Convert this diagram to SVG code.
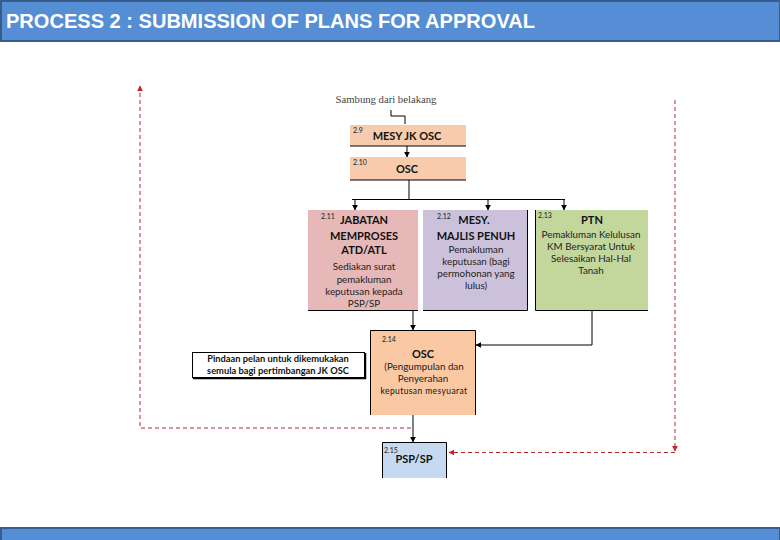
<svg xmlns="http://www.w3.org/2000/svg" width="780" height="540" viewBox="0 0 780 540">
  <defs>
    <marker id="ah" viewBox="0 0 10 10" refX="9" refY="5" markerWidth="6" markerHeight="6" orient="auto" markerUnits="userSpaceOnUse">
      <path d="M0,0 L10,5 L0,10 z" fill="#000"/>
    </marker>
    <marker id="ahr" viewBox="0 0 10 10" refX="9" refY="5" markerWidth="6" markerHeight="6" orient="auto" markerUnits="userSpaceOnUse">
      <path d="M0,0 L10,5 L0,10 z" fill="#c0262d"/>
    </marker>
    <style>
      .t { font-family: Lato, "Liberation Sans", sans-serif; fill: #111; text-anchor: middle; }
      .b { font-weight: bold; font-size: 11px; }
      .n { font-size: 9.8px; fill: #222; }
      .num { font-family: Lato, "Liberation Sans", sans-serif; font-size: 7px; fill: #222; }
      .edge { fill: none; stroke: #000; stroke-width: 1; }
      .red { fill: none; stroke: #c0262d; stroke-width: 1; stroke-dasharray: 4 3; }
      .ln { stroke: #000; stroke-width: 1; fill: none; }
    </style>
  </defs>
  <rect width="780" height="540" fill="#fff"/>

  <!-- header / footer -->
  <g id="header">
    <rect x="1" y="1" width="779" height="40" fill="#558ed5" stroke="#385d8a" stroke-width="2"/>
    <text x="6" y="28" font-family="'Liberation Sans', Arial, sans-serif" font-weight="bold" font-size="20" fill="#fff" textLength="529" lengthAdjust="spacingAndGlyphs">PROCESS 2 : SUBMISSION OF PLANS FOR APPROVAL</text>
  </g>
  <g id="footer">
    <rect x="1" y="528" width="779" height="13" fill="#558ed5" stroke="#385d8a" stroke-width="2"/>
  </g>

  <!-- connectors -->
  <g id="connectors">
    <path class="ln" d="M391 110 V116 H405 V124"/>
    <path class="edge" d="M407 146 V157" marker-end="url(#ah)"/>
    <path class="edge" d="M409 180 V199"/>
    <path class="ln" d="M352 199.5 H565"/>
    <path class="edge" d="M355 199 V210" marker-end="url(#ah)"/>
    <path class="edge" d="M488 199 V210" marker-end="url(#ah)"/>
    <path class="edge" d="M564 199 V210" marker-end="url(#ah)"/>
    <path class="edge" d="M413 310 V330" marker-end="url(#ah)"/>
    <path class="edge" d="M592 310 V345 H476" marker-end="url(#ah)"/>
    <path class="edge" d="M413 415 V442" marker-end="url(#ah)"/>
    <path class="red" d="M411 428 H140 V86" marker-end="url(#ahr)"/>
    <path class="red" d="M675 100 V451" marker-end="url(#ahr)"/>
    <path class="red" d="M675 452.5 H449" marker-end="url(#ahr)"/>
  </g>

  <g id="sambung">
    <text x="386" y="103" font-family="'Liberation Serif', serif" font-size="10.7" fill="#444" text-anchor="middle">Sambung dari belakang</text>
  </g>

  <g id="n29">
    <rect x="350" y="125" width="116" height="21" fill="#f8cbad"/>
    <path class="ln" d="M350 146 H466"/>
    <text class="num" x="353" y="133">2.9</text>
    <text class="t b" x="407" y="139.5">MESY JK OSC</text>
  </g>

  <g id="n210">
    <rect x="350" y="157" width="116" height="23" fill="#f8cbad"/>
    <path class="ln" d="M350 180 H466"/>
    <text class="num" x="353" y="165">2.10</text>
    <text class="t b" x="407" y="173">OSC</text>
  </g>

  <g id="n211">
    <rect x="308" y="210" width="110" height="100" fill="#e6b9b8"/>
    <path class="ln" d="M308 310.5 H418"/>
    <text class="num" x="321" y="219">2.11</text>
    <text class="t b" x="364" y="224">JABATAN</text>
    <text class="t b" x="364" y="239.5">MEMPROSES</text>
    <text class="t b" x="364" y="254">ATD/ATL</text>
    <text class="t n" x="364" y="270">Sediakan surat</text>
    <text class="t n" x="364" y="283">pemakluman</text>
    <text class="t n" x="364" y="295">keputusan kepada</text>
    <text class="t n" x="364" y="307">PSP/SP</text>
  </g>

  <g id="n212">
    <rect x="423" y="210" width="104" height="100" fill="#ccc1da"/>
    <path class="ln" d="M423 310.5 H527.5 V210"/>
    <text class="num" x="437" y="219">2.12</text>
    <text class="t b" x="474" y="224">MESY.</text>
    <text class="t b" x="476" y="240">MAJLIS PENUH</text>
    <text class="t n" x="476" y="253">Pemakluman</text>
    <text class="t n" x="476" y="265">keputusan (bagi</text>
    <text class="t n" x="476" y="277">permohonan yang</text>
    <text class="t n" x="476" y="289">lulus)</text>
  </g>

  <g id="n213">
    <rect x="535" y="210" width="113" height="100" fill="#c3d69b"/>
    <path class="ln" d="M535.5 210 V310.5 H648"/>
    <text class="num" x="538" y="218">2.13</text>
    <text class="t b" x="592" y="224">PTN</text>
    <text class="t n" x="591" y="238">Pemakluman Kelulusan</text>
    <text class="t n" x="591" y="250">KM Bersyarat Untuk</text>
    <text class="t n" x="591" y="262">Selesaikan Hal-Hal</text>
    <text class="t n" x="591" y="274">Tanah</text>
  </g>

  <g id="n214">
    <rect x="370" y="330" width="106" height="85" fill="#fac8a3"/>
    <path class="ln" d="M370.5 415 V330.5 H475.5 V415"/>
    <text class="num" x="382" y="342">2.14</text>
    <text class="t b" x="423" y="358">OSC</text>
    <text class="t n" x="424" y="370">(Pengumpulan dan</text>
    <text class="t n" x="423" y="382">Penyerahan</text>
    <text class="t" x="424" y="394" font-size="8.5" letter-spacing="0.4" fill="#333">keputusan mesyuarat</text>
  </g>

  <g id="pindaan">
    <rect x="192.5" y="352.5" width="172" height="25" fill="#fff" stroke="#000" stroke-width="1"/>
    <path d="M193 378.5 H365.5 V353" fill="none" stroke="#000" stroke-width="1.5"/>
    <text class="t" x="278" y="362" font-size="9.3" font-weight="bold">Pindaan pelan untuk dikemukakan</text>
    <text class="t" x="278" y="374" font-size="9.3" font-weight="bold">semula bagi pertimbangan JK OSC</text>
  </g>

  <g id="n215">
    <rect x="382" y="442" width="65" height="36" fill="#c6d9f1"/>
    <path class="ln" d="M382.5 478 V442.5 H446.5 V478"/>
    <text class="num" x="384" y="453">2.15</text>
    <text class="t b" x="414" y="463">PSP/SP</text>
  </g>
</svg>
